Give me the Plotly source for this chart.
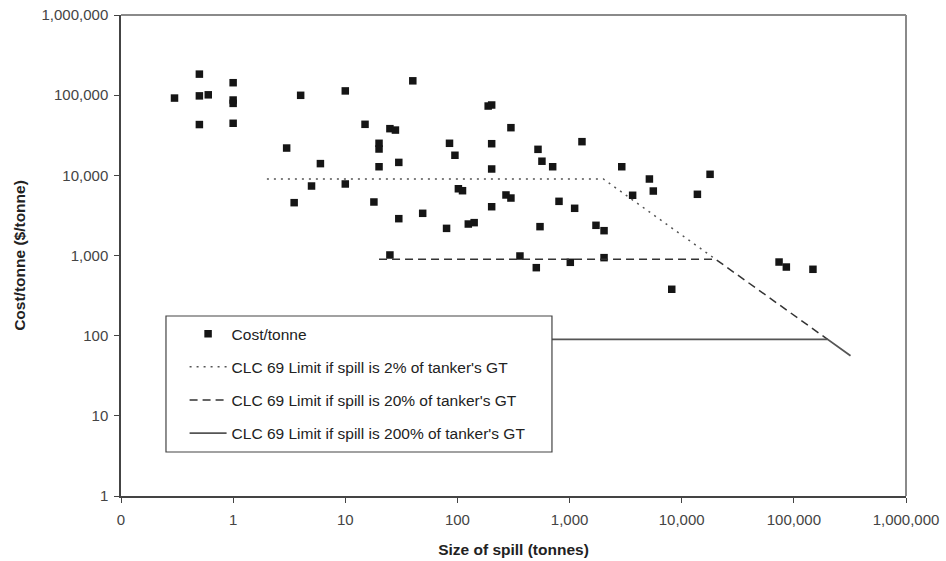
import plotly.graph_objects as go

# ---- data: spill size (tonnes) vs cost per tonne ($/tonne) ----
spill_size = [0.3, 0.5, 0.5, 0.6, 0.5, 1, 1, 1, 1, 3, 4, 6, 5, 3.5, 10, 10, 15, 18,
              20, 20, 20, 25, 28, 30, 30, 25, 40, 49, 80, 85, 95, 102, 111, 125, 141,
              188, 202, 202, 202, 202, 300, 271, 300, 361, 505, 523, 567, 707, 545,
              805, 1110, 1015, 1290, 1720, 2030, 2030, 2920, 3650, 5150, 5580, 13800,
              17900, 8150, 73800, 85700, 148000]
cost_per_tonne = [92000, 183000, 98000, 101000, 43000, 143000, 87000, 79000, 44600,
                  21900, 99600, 14000, 7360, 4560, 113000, 7800, 43300, 4650, 25100,
                  21300, 12800, 38200, 36700, 14500, 2880, 1015, 151000, 3360, 2180,
                  25100, 17800, 6800, 6430, 2470, 2570, 73200, 75400, 24800, 12000,
                  4060, 39300, 5690, 5210, 986, 705, 21100, 15000, 12800, 2290, 4740,
                  3880, 822, 26300, 2380, 2040, 940, 12800, 5640, 9000, 6370, 5800,
                  10300, 379, 829, 718, 673]

# CLC 69 limit lines
limit_2_x = [2, 2000, 20000]
limit_2_y = [9000, 9000, 900]
limit_20_x = [20, 20000, 200000]
limit_20_y = [900, 900, 90]
limit_200_x = [200, 200000, 320000]
limit_200_y = [90, 90, 56]

x_tickvals = [0.1, 1, 10, 100, 1000, 10000, 100000, 1000000]
x_ticktext = ["0", "1", "10", "100", "1,000", "10,000", "100,000", "1,000,000"]
y_tickvals = [1, 10, 100, 1000, 10000, 100000, 1000000]
y_ticktext = ["1", "10", "100", "1,000", "10,000", "100,000", "1,000,000"]

FONT = "Liberation Sans, Arial, sans-serif"

fig = go.Figure()
fig.add_trace(go.Scatter(
    x=spill_size, y=cost_per_tonne, mode="markers", name="Cost/tonne",
    legendgroup="a",
    marker=dict(symbol="square", size=7.5, color="#151515", line=dict(width=0))))
fig.add_trace(go.Scatter(
    x=limit_2_x, y=limit_2_y, mode="lines", legendgroup="b",
    name="CLC 69 Limit if spill is 2% of tanker's GT",
    line=dict(color="#555555", width=1.5, dash="2px,5px")))
fig.add_trace(go.Scatter(
    x=limit_20_x, y=limit_20_y, mode="lines", legendgroup="c",
    name="CLC 69 Limit if spill is 20% of tanker's GT",
    line=dict(color="#333333", width=1.5, dash="8px,5px")))
fig.add_trace(go.Scatter(
    x=limit_200_x, y=limit_200_y, mode="lines", legendgroup="d",
    name="CLC 69 Limit if spill is 200% of tanker's GT",
    line=dict(color="#555555", width=1.8)))

# plot-area border (top/right grey), legend box
fig.add_shape(type="line", xref="paper", yref="paper", x0=0, x1=1, y0=1, y1=1,
              line=dict(color="#8a8a8a", width=2))
fig.add_shape(type="line", xref="paper", yref="paper", x0=1, x1=1, y0=0, y1=1,
              line=dict(color="#8a8a8a", width=2))
fig.add_shape(type="rect", xref="paper", yref="paper",
              x0=0.0573, x1=0.549, y0=0.0915, y1=0.3742,
              fillcolor="white", line=dict(color="#444444", width=1.2), layer="above")

fig.update_layout(
    width=946, height=561,
    margin=dict(l=121, r=40, t=15, b=65, autoexpand=False),
    paper_bgcolor="white", plot_bgcolor="white",
    font=dict(family=FONT, size=15, color="#333333"),
    showlegend=True,
    legend=dict(x=0.081, y=0.372, xanchor="left", yanchor="top",
                bgcolor="rgba(0,0,0,0)", borderwidth=0,
                font=dict(family=FONT, size=15.5, color="#222222"),
                tracegroupgap=10, traceorder="grouped", itemwidth=37),
    xaxis=dict(type="log", range=[-1, 6], tickvals=x_tickvals, ticktext=x_ticktext,
               automargin=False,
               showgrid=False, zeroline=False, showline=True, linecolor="#444444",
               linewidth=1.5, ticks="outside", ticklen=5, tickcolor="#444444",
               ticklabelstandoff=4,
               tickfont=dict(family=FONT, size=15, color="#444444"),
               title=dict(text="<b>Size of spill (tonnes)</b>", standoff=17,
                          font=dict(family=FONT, size=15.5, color="#222222"))),
    yaxis=dict(type="log", range=[0, 6], tickvals=y_tickvals, ticktext=y_ticktext,
               automargin=False,
               showgrid=False, zeroline=False, showline=True, linecolor="#444444",
               linewidth=1.5, ticks="outside", ticklen=5, tickcolor="#444444",
               ticklabelstandoff=3,
               tickfont=dict(family=FONT, size=15, color="#444444"),
               title=dict(text="<b>Cost/tonne ($/tonne)</b>", standoff=12,
                          font=dict(family=FONT, size=15.5, color="#222222"))),
)

fig.write_html("out.html")
